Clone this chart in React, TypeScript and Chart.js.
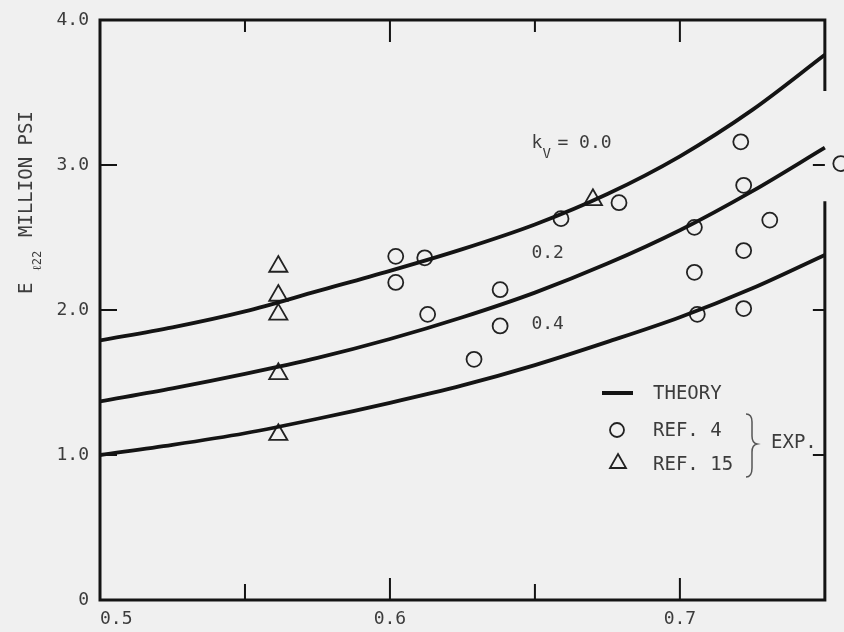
import React, { useEffect, useRef } from "react";
import { Chart, registerables } from "chart.js";

Chart.register(...registerables);

// ---- data ----
const curveX = [0.5, 0.525, 0.55, 0.575, 0.6, 0.625, 0.65, 0.675, 0.7, 0.725, 0.75];
const theoryKv00 = [1.79, 1.88, 1.99, 2.13, 2.27, 2.42, 2.59, 2.8, 3.06, 3.38, 3.76];
const theoryKv02 = [1.37, 1.46, 1.56, 1.67, 1.8, 1.95, 2.12, 2.32, 2.55, 2.82, 3.12];
const theoryKv04 = [1.0, 1.07, 1.15, 1.25, 1.36, 1.48, 1.62, 1.78, 1.95, 2.15, 2.38];

// (the point beyond the right frame is listed first)
const ref4X = [0.7555, 0.602, 0.602, 0.612, 0.613, 0.629, 0.638, 0.638, 0.659, 0.679, 0.705, 0.705, 0.706, 0.721, 0.722, 0.722, 0.722, 0.731];
const ref4Y = [3.01, 2.37, 2.19, 2.36, 1.97, 1.66, 1.89, 2.14, 2.63, 2.74, 2.57, 2.26, 1.97, 3.16, 2.86, 2.41, 2.01, 2.62];

const ref15X = [0.5615, 0.5615, 0.5615, 0.5615, 0.5615, 0.67];
const ref15Y = [2.3, 2.1, 1.97, 1.56, 1.14, 2.76];

const frameXMax = 0.75;
const canvasXMax = 0.7566;
const yTickValues = [0, 1, 2, 3, 4];
const yTickLabels = ["0", "1.0", "2.0", "3.0", "4.0"];
const xTickValues = [0.5, 0.6, 0.7];
const xTickLabels = ["   0.5", "0.6", "0.7"];
const xMajorMarks = [0.6, 0.7];
const xMinorMarks = [0.55, 0.65];
const yMarks = [1, 2, 3];
const curveLabels = ["0.0", "0.2", "0.4"];
const legendLabels = ["THEORY", "REF. 4", "REF. 15", "EXP."];

const BG = "#f0f0f0";
const INK = "#141414";
const TEXT = "#3c3c3c";
const MONO = "'DejaVu Sans Mono', monospace";

const pairs = (xs: number[], ys: number[]) => xs.map((x, i) => ({ x, y: ys[i] }));

const decorPlugin = {
  id: "decor",
  beforeDraw(chart: any) {
    const ctx = chart.ctx;
    ctx.save();
    ctx.fillStyle = BG;
    ctx.fillRect(0, 0, chart.width, chart.height);
    ctx.restore();
  },
  beforeDatasetsDraw(chart: any) {
    const ctx = chart.ctx;
    const xs = chart.scales.x;
    const ys = chart.scales.y;
    const L = xs.getPixelForValue(0.5);
    const R = xs.getPixelForValue(frameXMax);
    const T = ys.getPixelForValue(4);
    const B = ys.getPixelForValue(0);
    ctx.save();
    ctx.strokeStyle = INK;
    ctx.lineCap = "square";
    ctx.lineWidth = 3;
    ctx.beginPath();
    ctx.moveTo(L, T);
    ctx.lineTo(L, B);
    ctx.lineTo(R, B);
    ctx.moveTo(L, T);
    ctx.lineTo(R, T);
    ctx.lineTo(R, ys.getPixelForValue(3.52));
    ctx.moveTo(R, ys.getPixelForValue(2.74));
    ctx.lineTo(R, B);
    ctx.stroke();

    ctx.lineWidth = 2;
    ctx.lineCap = "butt";
    ctx.beginPath();
    xMajorMarks.forEach((v) => {
      const p = xs.getPixelForValue(v);
      ctx.moveTo(p, B);
      ctx.lineTo(p, B - 22);
      ctx.moveTo(p, T);
      ctx.lineTo(p, T + 22);
    });
    xMinorMarks.forEach((v) => {
      const p = xs.getPixelForValue(v);
      ctx.moveTo(p, B);
      ctx.lineTo(p, B - 16);
      ctx.moveTo(p, T);
      ctx.lineTo(p, T + 12);
    });
    yMarks.forEach((v) => {
      const p = ys.getPixelForValue(v);
      ctx.moveTo(L, p);
      ctx.lineTo(L + 17, p);
      ctx.moveTo(R, p);
      ctx.lineTo(R - 12, p);
    });
    ctx.stroke();
    ctx.restore();
  },
  afterDraw(chart: any) {
    const ctx = chart.ctx;
    const xs = chart.scales.x;
    const ys = chart.scales.y;
    ctx.save();
    ctx.fillStyle = TEXT;
    ctx.textBaseline = "middle";
    ctx.textAlign = "left";

    // curve labels
    const lx = xs.getPixelForValue(0.6488);
    ctx.font = `18px ${MONO}`;
    ctx.fillText("k", lx, ys.getPixelForValue(3.15));
    ctx.font = `14px ${MONO}`;
    ctx.fillText("V", lx + 11, ys.getPixelForValue(3.07));
    ctx.font = `18px ${MONO}`;
    ctx.fillText("= " + curveLabels[0], lx + 26, ys.getPixelForValue(3.15));
    ctx.fillText(curveLabels[1], lx, ys.getPixelForValue(2.39));
    ctx.fillText(curveLabels[2], lx, ys.getPixelForValue(1.9));

    // legend
    const gx = 602;
    ctx.strokeStyle = INK;
    ctx.lineWidth = 4;
    ctx.beginPath();
    ctx.moveTo(gx, 393);
    ctx.lineTo(gx + 31, 393);
    ctx.stroke();
    ctx.lineWidth = 1.8;
    ctx.strokeStyle = "#222";
    ctx.beginPath();
    ctx.arc(gx + 15, 430, 7, 0, Math.PI * 2);
    ctx.stroke();
    ctx.beginPath();
    ctx.moveTo(gx + 16, 454);
    ctx.lineTo(gx + 24, 468);
    ctx.lineTo(gx + 8, 468);
    ctx.closePath();
    ctx.stroke();
    ctx.font = `19px ${MONO}`;
    ctx.fillText(legendLabels[0], 653, 394);
    ctx.fillText(legendLabels[1], 653, 431);
    ctx.fillText(legendLabels[2], 653, 465);
    ctx.fillText(legendLabels[3], 771, 443);
    // brace
    ctx.strokeStyle = "#555";
    ctx.lineWidth = 1.5;
    ctx.beginPath();
    ctx.moveTo(746, 414);
    ctx.quadraticCurveTo(752, 414, 752, 422);
    ctx.lineTo(752, 436);
    ctx.quadraticCurveTo(752, 443, 757, 444);
    ctx.quadraticCurveTo(752, 445, 752, 452);
    ctx.lineTo(752, 468);
    ctx.quadraticCurveTo(752, 477, 746, 477);
    ctx.stroke();

    // y-axis title (rotated)
    ctx.translate(32, 294);
    ctx.rotate(-Math.PI / 2);
    ctx.textBaseline = "alphabetic";
    ctx.font = `19px ${MONO}`;
    ctx.fillText("E", 0, 0);
    ctx.font = `12px ${MONO}`;
    ctx.fillText("ℓ22", 23, 9);
    ctx.font = `19px ${MONO}`;
    ctx.fillText("MILLION PSI", 57, 0);
    ctx.restore();
  },
};

export default function App() {
  const ref = useRef<HTMLCanvasElement | null>(null);
  useEffect(() => {
    if (!ref.current) return;
    const curveStyle = {
      showLine: true,
      pointRadius: 0,
      borderColor: INK,
      borderWidth: 3.8,
      cubicInterpolationMode: "monotone" as const,
      fill: false,
    };
    const chart = new Chart(ref.current, {
      type: "scatter",
      data: {
        datasets: [
          { label: "k=0.0", data: pairs(curveX, theoryKv00), ...curveStyle },
          { label: "k=0.2", data: pairs(curveX, theoryKv02), ...curveStyle },
          { label: "k=0.4", data: pairs(curveX, theoryKv04), ...curveStyle },
          {
            label: "REF. 4",
            data: pairs(ref4X, ref4Y),
            pointStyle: "circle",
            pointRadius: 7.5,
            borderWidth: 1.8,
            borderColor: "#222",
            backgroundColor: BG,
            clip: false,
          },
          {
            label: "REF. 15",
            data: pairs(ref15X, ref15Y),
            pointStyle: "triangle",
            pointRadius: 10.5,
            borderWidth: 1.8,
            borderColor: "#222",
            backgroundColor: BG,
            clip: false,
          },
        ],
      },
      options: {
        animation: false,
        responsive: false,
        devicePixelRatio: 1,
        layout: { autoPadding: false, padding: { left: 0, right: 0, top: 20, bottom: 0 } },
        plugins: { legend: { display: false }, tooltip: { enabled: false } },
        scales: {
          x: {
            type: "linear",
            min: 0.5,
            max: canvasXMax,
            grid: { display: false, drawTicks: false },
            border: { display: false },
            afterBuildTicks: (s: any) => {
              s.ticks = xTickValues.map((v) => ({ value: v }));
            },
            afterFit: (s: any) => {
              s.height = 32;
              s.paddingLeft = 0;
              s.paddingRight = 0;
            },
            ticks: {
              padding: 9,
              color: TEXT,
              font: { family: MONO, size: 18 },
              maxRotation: 0,
              autoSkip: false,
              callback: (v: any) => {
                const i = xTickValues.findIndex((t) => Math.abs(t - v) < 1e-6);
                return i >= 0 ? xTickLabels[i] : "";
              },
            },
          },
          y: {
            type: "linear",
            min: 0,
            max: 4,
            grid: { display: false, drawTicks: false },
            border: { display: false },
            afterBuildTicks: (s: any) => {
              s.ticks = yTickValues.map((v) => ({ value: v }));
            },
            afterFit: (s: any) => {
              s.width = 100;
              s.paddingTop = 0;
              s.paddingBottom = 0;
            },
            ticks: {
              padding: 11,
              color: TEXT,
              font: { family: MONO, size: 18 },
              autoSkip: false,
              callback: (v: any) => {
                const i = yTickValues.findIndex((t) => Math.abs(t - v) < 1e-6);
                return i >= 0 ? yTickLabels[i] : "";
              },
            },
          },
        },
      },
      plugins: [decorPlugin],
    });
    return () => chart.destroy();
  }, []);
  return (
    <div style={{ position: "fixed", left: 0, top: 0, width: 844, height: 632, background: BG }}>
      <canvas ref={ref} width={844} height={632} style={{ display: "block", width: 844, height: 632 }} />
    </div>
  );
}
